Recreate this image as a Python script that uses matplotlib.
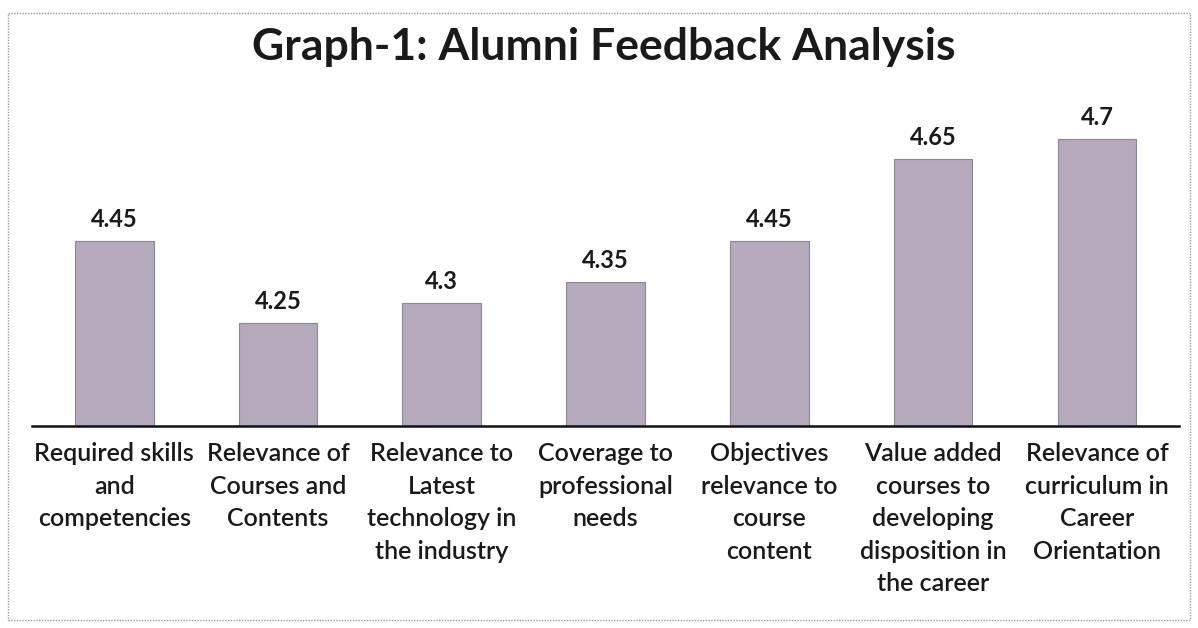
import matplotlib.pyplot as plt
from matplotlib.patches import Rectangle

categories = [
    "Required skills\nand\ncompetencies",
    "Relevance of\nCourses and\nContents",
    "Relevance to\nLatest\ntechnology in\nthe industry",
    "Coverage to\nprofessional\nneeds",
    "Objectives\nrelevance to\ncourse\ncontent",
    "Value added\ncourses to\ndeveloping\ndisposition in\nthe career",
    "Relevance of\ncurriculum in\nCareer\nOrientation",
]
scores = [4.45, 4.25, 4.3, 4.35, 4.45, 4.65, 4.7]
score_labels = ["4.45", "4.25", "4.3", "4.35", "4.45", "4.65", "4.7"]

plt.rcParams["font.family"] = ["Lato", "DejaVu Sans"]

fig = plt.figure(figsize=(11.98, 6.28), dpi=100)
fig.patch.set_facecolor("white")

# dotted frame of the chart area
fig.patches.append(Rectangle((0.007, 0.012), 0.986, 0.968, transform=fig.transFigure,
                             fill=False, edgecolor="#9a9a9a", linewidth=1.0,
                             linestyle=(0, (1, 1))))

ax = fig.add_axes([0.027, 0.322, 0.957, 0.522])
base = 4.0
x = range(len(categories))
bars = ax.bar(x, [s - base for s in scores], bottom=base, width=0.48,
              color="#b5abbd", edgecolor="#8c8592", linewidth=0.8)

for xi, s, lab in zip(x, scores, score_labels):
    ax.text(xi, s + 0.025, lab, ha="center", va="bottom", fontsize=17,
            fontweight="bold", color="#1a1a1a")

ax.set_xlim(-0.5, len(categories) - 0.5)
ax.set_ylim(base, 4.8)
ax.set_xticks(list(x))
ax.set_xticklabels(categories, fontsize=18, color="#1a1a1a", linespacing=1.5,
                   fontweight="semibold")
ax.tick_params(axis="x", length=0, pad=12)
ax.set_yticks([])
for side in ["top", "right", "left"]:
    ax.spines[side].set_visible(False)
ax.spines["bottom"].set_linewidth(1.8)
ax.spines["bottom"].set_color("#111111")

fig.text(0.504, 0.925, "Graph-1: Alumni Feedback Analysis", ha="center", va="center",
         fontsize=32, fontweight="bold", color="#1a1a1a")

fig.savefig("out.png", dpi=100)
